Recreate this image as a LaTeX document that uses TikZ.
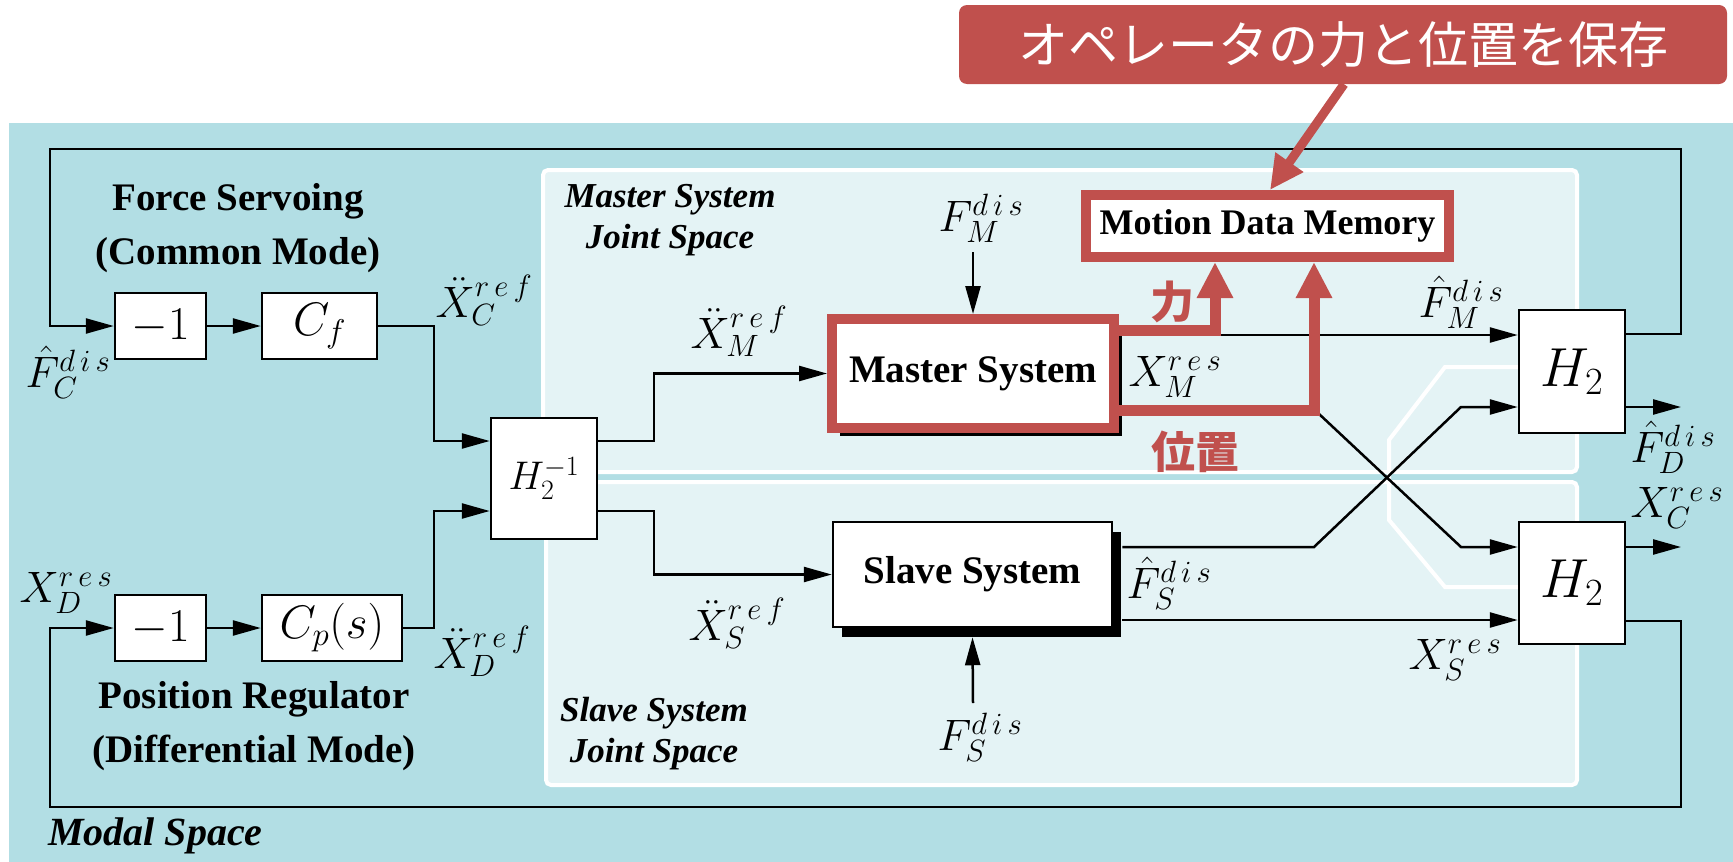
\RequirePackage{fix-cm}
\documentclass[tikz,border=0pt]{standalone}
\usepackage{fontspec}
\setmainfont{Liberation Serif}
\newfontfamily\cjkfont{Noto Sans CJK JP}
\usetikzlibrary{arrows.meta,shadows}
\definecolor{bgblue}{RGB}{178,222,228}
\definecolor{panelc}{RGB}{228,243,245}
\definecolor{myred}{RGB}{192,80,77}
\newcommand{\LabFont}{\fontsize{44}{50}\selectfont}
\newcommand{\BoxFont}{\fontsize{47}{52}\selectfont}
\newcommand{\sres}{r\mkern3mu e\mkern3mu s}
\newcommand{\sref}{r\mkern3mu e\mkern3mu f}
\newcommand{\sdis}{d\mkern3mu i\mkern3mu s}
\begin{document}
\begin{tikzpicture}[x=1pt,y=-1pt,
  box/.style={draw=black,line width=2.5pt,fill=white,inner sep=0pt,font=\BoxFont},
  conn/.style={draw=black,line width=2.5pt},
  arr/.style={conn,-{Triangle[length=28pt,width=15pt]}},
  redarr/.style={draw=myred,line width=11pt,-{Triangle[length=36pt,width=34pt]}},
  lab/.style={inner sep=0pt,font=\LabFont},
  txt/.style={inner sep=0pt,align=center,font=\fontsize{39}{54}\selectfont\bfseries},
  pan/.style={inner sep=0pt,align=center,font=\fontsize{35}{41}\selectfont\bfseries\itshape},
  panel/.style={draw=white,line width=4pt,fill=panelc,rounded corners=5pt},
]
\useasboundingbox (0,0) rectangle (1733,862);
\fill[bgblue] (9,123) rectangle (1733,862);
% panels
\draw[panel] (543,170) rectangle (1577,472);
\draw[panel] (546,482) rectangle (1577,785);
\draw[white,line width=4pt] (1519,367) -- (1445,367) -- (1389,440) -- (1389,520) -- (1445,587) -- (1519,587);

% callout
\node[fill=myred,rounded corners=8pt,minimum width=768,minimum height=79,inner sep=0pt,
      text=white,font=\cjkfont\fontsize{50}{56}\selectfont] (call) at (1343,44.5) {オペレータの力と位置を保存};

% left blocks
\node[box,minimum width=91,minimum height=66] (m1a) at (160.5,326) {$-1$};
\node[box,minimum width=115,minimum height=66] (cf) at (319.5,326) {$C_f$};
\node[box,minimum width=91,minimum height=66] (m1b) at (160.5,628) {$-1$};
\node[box,minimum width=140,minimum height=66] (cp) at (332,628) {$C_p(s)$};
\node[box,minimum width=106,minimum height=121,font=\fontsize{40}{44}\selectfont] (hinv) at (544,478.5) {$H_2^{-1}$};

% systems
\node[box,draw=myred,line width=10pt,minimum width=282,minimum height=109,
      font=\fontsize{39}{44}\selectfont\bfseries,
      drop shadow={shadow xshift=8pt,shadow yshift=-8pt,fill=black,opacity=1}] (master) at (973,373.5) {Master System};
\node[box,minimum width=279,minimum height=105,font=\fontsize{39}{44}\selectfont\bfseries,
      drop shadow={shadow xshift=9pt,shadow yshift=-10pt,fill=black,opacity=1}] (slave) at (972.5,574.5) {Slave System};
\node[box,draw=myred,line width=10pt,minimum width=363,minimum height=62,
      font=\fontsize{36}{40}\selectfont\bfseries] (mdm) at (1267.5,226) {Motion Data Memory};

% H2 blocks
\node[box,minimum width=106,minimum height=123,font=\fontsize{55}{60}\selectfont] (h2a) at (1572,371.5) {$H_2$};
\node[box,minimum width=106,minimum height=122,font=\fontsize{55}{60}\selectfont] (h2b) at (1572,583) {$H_2$};

% texts
\node[txt] (fs) at (238,228) {Force Servoing\\(Common Mode)};
\node[txt] (pr) at (254,726) {Position Regulator\\(Differential Mode)};
\node[inner sep=0pt,anchor=west,font=\fontsize{40}{44}\selectfont\bfseries\itshape] (modal) at (48,836) {Modal Space};
\node[pan] (mlab) at (670,220) {Master System\\Joint Space};
\node[pan] (slab) at (654,734) {Slave System\\Joint Space};

% math labels
\node[lab] (lFC) at (68,372) {$\hat F_C^{\sdis}$};
\node[lab] (lXC) at (484,300) {$\ddot X_C^{\sref}$};
\node[lab] (lXD) at (66,593) {$X_D^{\sres}$};
\node[lab] (lXDr) at (482,651) {$\ddot X_D^{\sref}$};
\node[lab] (lXM) at (739,331) {$\ddot X_M^{\sref}$};
\node[lab] (lXS) at (737,623) {$\ddot X_S^{\sref}$};
\node[lab] (lFM) at (981,218) {$F_M^{\sdis}$};
\node[lab] (lFS) at (980,737) {$F_S^{\sdis}$};
\node[lab] (lXMr) at (1175,377) {$X_M^{\sres}$};
\node[lab] (lFMh) at (1461,302) {$\hat F_M^{\sdis}$};
\node[lab] (lFSh) at (1169,583) {$\hat F_S^{\sdis}$};
\node[lab] (lXSr) at (1455,660) {$X_S^{\sres}$};
\node[lab] (lFD) at (1673,447) {$\hat F_D^{\sdis}$};
\node[lab] (lXCr) at (1677,508) {$X_C^{\sres}$};

% coordinates
\coordinate (fmin) at (973,252);
\coordinate (fsin) at (973,703);
\coordinate (fdout) at (1681,407);
\coordinate (xcout) at (1681,547);

% connectors left
\draw[arr] (h2a.east |- 0,334) -- (1681,334) -- (1681,149) -- (50,149) |- (m1a.west);
\draw[arr] (m1a.east) -- (cf.west);
\draw[arr] (cf.east) -- (434,326) -- (434,441) -- (hinv.west |- 0,441);
\draw[arr] (h2b.east |- 0,621) -- (1681,621) -- (1681,807) -- (50,807) |- (m1b.west);
\draw[arr] (m1b.east) -- (cp.west);
\draw[arr] (cp.east) -- (434,628) -- (434,511) -- (hinv.west |- 0,511);
\draw[arr] (hinv.east |- 0,441) -- (654,441) |- (master.west);
\draw[arr] (hinv.east |- 0,511) -- (654,511) |- (slave.west);
\draw[arr] (fmin) -- (master.north);
\draw[arr] (fsin) -- ([yshift=-9pt]slave.south);

% right connectors
\draw[arr] (master.east |- 0,335) -- (h2a.west |- 0,335);
\draw[arr] (master.east |- 0,413) -- (1318,413) -- (1461,547) -- (h2b.west |- 0,547);
\draw[arr] ([xshift=9pt]slave.east |- 0,547) -- (1314,547) -- (1461,407) -- (h2a.west |- 0,407);
\draw[arr] ([xshift=9pt]slave.east |- 0,620) -- (h2b.west |- 0,620);
\draw[arr] (h2a.east |- fdout) -- (fdout);
\draw[arr] (h2b.east |- xcout) -- (xcout);

% red arrows
\draw[redarr] (master.east |- 0,330) -- (1215,330) -- (1215,0 |- mdm.south);
\draw[redarr] (master.east |- 0,410) -- (1314,410) -- (1314,0 |- mdm.south);
\draw[draw=myred,line width=9pt,-{Triangle[length=34pt,width=32pt]}] (call.south -| 1344,0) -- (1270,0 |- mdm.north);
\node[text=myred,inner sep=0pt,font=\cjkfont\bfseries\fontsize{44}{48}\selectfont] (chikara) at (1172,302) {力};
\node[text=myred,inner sep=0pt,font=\cjkfont\bfseries\fontsize{44}{48}\selectfont] (ichi) at (1195,452) {位置};
\end{tikzpicture}
\end{document}
